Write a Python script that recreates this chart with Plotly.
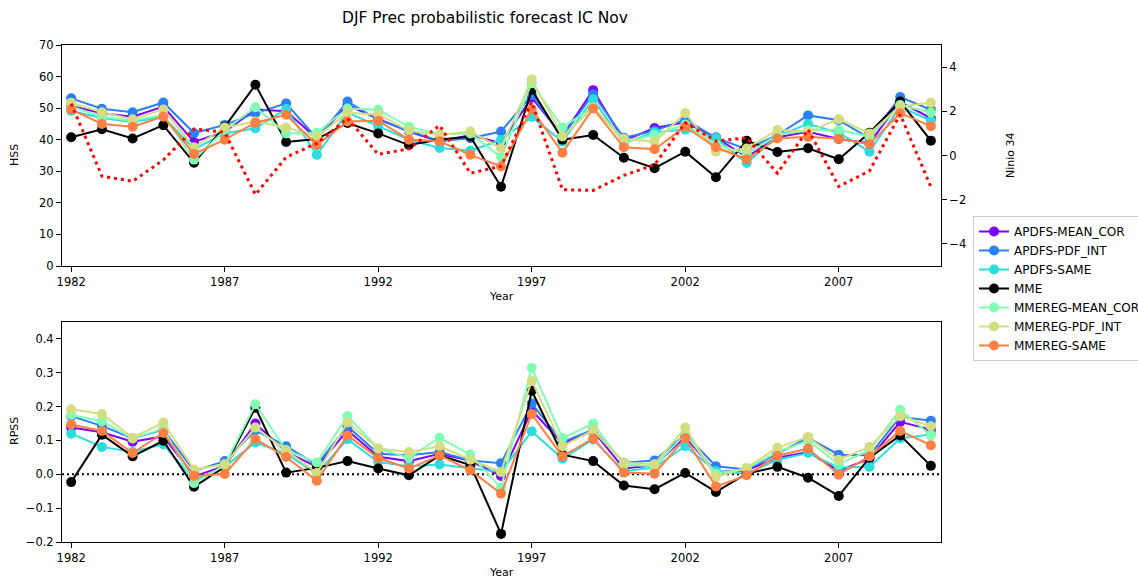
import plotly.graph_objects as go

# Forecast verification scores, DJF precipitation, initial condition November
years = list(range(1982, 2011))

model_names = ["APDFS-MEAN_COR", "APDFS-PDF_INT", "APDFS-SAME", "MME",
               "MMEREG-MEAN_COR", "MMEREG-PDF_INT", "MMEREG-SAME"]
model_colors = ["#8000ff", "#2b80f6", "#2bdddd", "#000000",
                "#80ffb4", "#d4dd80", "#ff8042"]

# Heidke skill score per year
hss_apdfs_mean_cor = [50.7, 48.4, 47.3, 50.5, 39.3, 42.6, 49.6, 49.0, 40.4, 51.0,
                      46.6, 42.6, 39.4, 41.5, 38.9, 53.3, 41.2, 55.7, 39.7, 43.7,
                      45.5, 40.7, 34.5, 40.8, 42.5, 40.2, 38.9, 52.0, 46.8]
hss_apdfs_pdf_int = [53.1, 49.8, 48.7, 51.8, 42.1, 44.7, 48.4, 51.5, 40.4, 52.1,
                     46.3, 42.8, 39.6, 40.5, 42.6, 54.2, 41.0, 54.4, 40.6, 42.8,
                     46.4, 40.6, 37.0, 41.5, 47.7, 46.2, 40.5, 53.5, 49.5]
hss_apdfs_same = [49.1, 46.9, 45.6, 47.3, 37.0, 42.0, 43.6, 49.7, 35.2, 48.6,
                  44.3, 40.0, 37.4, 36.5, 39.9, 47.2, 39.4, 52.8, 38.9, 42.4,
                  43.2, 40.5, 32.6, 41.2, 45.0, 42.2, 36.2, 50.5, 46.0]
hss_mme = [40.8, 43.3, 40.4, 44.6, 32.7, 44.1, 57.4, 39.3, 40.2, 45.3,
           42.0, 38.3, 40.1, 41.0, 25.1, 55.8, 40.0, 41.5, 34.3, 31.0,
           36.2, 28.1, 39.7, 36.1, 37.3, 33.8, 42.2, 52.1, 39.7]
hss_mmereg_mean_cor = [50.5, 47.3, 46.0, 47.8, 33.7, 43.1, 50.3, 42.0, 42.2, 49.9,
                       49.5, 44.1, 41.7, 42.0, 34.5, 57.9, 43.9, 50.3, 39.5, 41.5,
                       44.8, 38.5, 35.5, 41.5, 43.0, 43.1, 41.0, 51.0, 48.6]
hss_mmereg_pdf_int = [51.7, 48.7, 46.5, 49.6, 37.6, 43.9, 45.8, 43.9, 41.0, 48.5,
                      48.0, 42.9, 41.5, 42.6, 37.3, 59.1, 41.0, 50.0, 40.3, 39.4,
                      48.4, 36.2, 37.2, 43.1, 42.5, 46.5, 42.0, 50.5, 51.7]
hss_mmereg_same = [49.6, 45.0, 44.1, 47.3, 35.5, 40.0, 45.4, 47.9, 38.3, 45.8,
                   46.0, 40.0, 39.5, 35.2, 31.5, 49.6, 35.9, 49.9, 37.6, 37.0,
                   44.1, 37.6, 33.8, 40.4, 40.9, 40.3, 38.6, 48.4, 44.3]

# Ranked probability skill score per year
rpss_apdfs_mean_cor = [0.138, 0.124, 0.096, 0.112, -0.006, 0.025, 0.150, 0.066, 0.022, 0.130,
                       0.052, 0.039, 0.061, 0.040, -0.005, 0.189, 0.091, 0.128, 0.017, 0.027,
                       0.110, 0.007, 0.012, 0.049, 0.066, 0.010, 0.046, 0.155, 0.132]
rpss_apdfs_pdf_int = [0.172, 0.143, 0.106, 0.132, 0.010, 0.039, 0.130, 0.083, 0.028, 0.142,
                      0.061, 0.056, 0.066, 0.041, 0.033, 0.209, 0.095, 0.132, 0.034, 0.041,
                      0.118, 0.024, 0.014, 0.062, 0.108, 0.058, 0.056, 0.170, 0.158]
rpss_apdfs_same = [0.120, 0.081, 0.066, 0.089, -0.018, 0.022, 0.094, 0.061, 0.002, 0.104,
                   0.036, 0.024, 0.029, 0.017, 0.007, 0.127, 0.046, 0.103, 0.009, 0.020,
                   0.083, 0.010, 0.002, 0.043, 0.063, 0.020, 0.022, 0.106, 0.118]
rpss_mme = [-0.023, 0.117, 0.053, 0.099, -0.037, 0.022, 0.197, 0.005, 0.019, 0.039,
            0.017, -0.003, 0.056, 0.027, -0.176, 0.247, 0.058, 0.039, -0.033, -0.044,
            0.004, -0.052, 0.002, 0.022, -0.010, -0.064, 0.049, 0.115, 0.025]
rpss_mmereg_mean_cor = [0.175, 0.157, 0.106, 0.135, -0.026, 0.027, 0.207, 0.071, 0.035, 0.172,
                        0.076, 0.049, 0.108, 0.058, -0.040, 0.315, 0.107, 0.150, 0.028, 0.024,
                        0.120, 0.002, 0.017, 0.066, 0.099, 0.030, 0.071, 0.191, 0.115]
rpss_mmereg_pdf_int = [0.192, 0.178, 0.108, 0.153, 0.014, 0.030, 0.138, 0.071, 0.004, 0.153,
                       0.076, 0.066, 0.083, 0.043, 0.007, 0.276, 0.083, 0.130, 0.034, 0.030,
                       0.138, -0.008, 0.019, 0.079, 0.110, 0.043, 0.081, 0.172, 0.142]
rpss_mmereg_same = [0.147, 0.128, 0.063, 0.122, -0.005, 0.001, 0.104, 0.051, -0.019, 0.115,
                    0.048, 0.017, 0.056, 0.012, -0.057, 0.178, 0.053, 0.106, 0.005, 0.002,
                    0.107, -0.036, -0.003, 0.055, 0.076, -0.001, 0.053, 0.128, 0.086]

# Nino 3.4 index (DJF)
nino34 = [2.35, -0.93, -1.17, -0.20, 1.20, 1.05, -1.77, -0.08, 0.55, 1.68,
          0.05, 0.30, 1.36, -0.80, -0.48, 2.42, -1.55, -1.58, -0.90, -0.42,
          1.48, 0.65, 0.80, -0.80, 1.18, -1.40, -0.70, 1.86, -1.42]

year_ticks = [1982, 1987, 1992, 1997, 2002, 2007]

hss_series = [hss_apdfs_mean_cor, hss_apdfs_pdf_int, hss_apdfs_same, hss_mme,
              hss_mmereg_mean_cor, hss_mmereg_pdf_int, hss_mmereg_same]
rpss_series = [rpss_apdfs_mean_cor, rpss_apdfs_pdf_int, rpss_apdfs_same, rpss_mme,
               rpss_mmereg_mean_cor, rpss_mmereg_pdf_int, rpss_mmereg_same]

W, H = 1138, 578
FONT = "DejaVu Sans"


def px_x(p):
    return p / W


def px_y(p):
    return 1 - p / H


def label(text, x, y, size=11, angle=0):
    return dict(text=text, x=px_x(x), y=px_y(y), xref="paper", yref="paper",
                xanchor="center", yanchor="middle", showarrow=False,
                textangle=angle, font=dict(family=FONT, size=size, color="black"))


fig = go.Figure()

for name, color, hss in zip(model_names, model_colors, hss_series):
    fig.add_trace(go.Scatter(
        x=years, y=hss, name=name, mode="lines+markers",
        line=dict(color=color, width=2), marker=dict(color=color, size=10),
        xaxis="x", yaxis="y", showlegend=True))

for name, color, rpss in zip(model_names, model_colors, rpss_series):
    fig.add_trace(go.Scatter(
        x=years, y=rpss, name=name, mode="lines+markers",
        line=dict(color=color, width=2), marker=dict(color=color, size=10),
        xaxis="x2", yaxis="y3", showlegend=False))

fig.add_trace(go.Scatter(
    x=years, y=nino34, name="Ninio 34", mode="lines",
    line=dict(color="red", width=3, dash="3px,4px"),
    xaxis="x", yaxis="y2", showlegend=False))

x_dom = [px_x(62), px_x(941)]
axis_common = dict(showline=True, linecolor="black", linewidth=1, showgrid=False,
                   zeroline=False, ticks="outside", ticklen=5, tickwidth=1,
                   automargin=False, tickcolor="black",
                   tickfont=dict(family=FONT, size=11.5, color="black"))

fig.update_layout(
    template="none",
    width=W, height=H,
    margin=dict(l=0, r=0, t=0, b=0, pad=0, autoexpand=False),
    paper_bgcolor="white", plot_bgcolor="white",
    font=dict(family=FONT, size=12, color="black"),
    xaxis=dict(domain=x_dom, anchor="y", range=[1981.7, 2010.33],
               tickvals=year_ticks, mirror=True, **axis_common),
    yaxis=dict(domain=[px_y(266), px_y(45)], anchor="x", range=[0, 70],
               tickvals=list(range(0, 80, 10)), mirror=True, **axis_common),
    yaxis2=dict(overlaying="y", side="right", anchor="x", range=[-5, 5],
                tickvals=[-4, -2, 0, 2, 4], **axis_common),
    xaxis2=dict(domain=x_dom, anchor="y3", range=[1981.7, 2010.33],
                tickvals=year_ticks, mirror=True, **axis_common),
    yaxis3=dict(domain=[px_y(542), px_y(322)], anchor="x2", range=[-0.2, 0.45],
                tickvals=[-0.2, -0.1, 0.0, 0.1, 0.2, 0.3, 0.4], tickformat=".1f",
                mirror=True, **axis_common),
    showlegend=True,
    legend=dict(x=px_x(973), y=px_y(216), xanchor="left", yanchor="top",
                bgcolor="white", bordercolor="#cccccc", borderwidth=1,
                font=dict(family=FONT, size=12, color="black"),
                tracegroupgap=0, itemwidth=30),
    shapes=[dict(type="line", xref="x2 domain", yref="y3", x0=0, x1=1, y0=0, y1=0,
                 line=dict(color="black", width=2, dash="2px,3px"), layer="below")],
    annotations=[
        label("DJF Prec probabilistic forecast IC Nov", 485, 18, size=15.5),
        label("HSS", 14, 155, angle=-90),
        label("RPSS", 14, 431, angle=-90),
        label("Ninio 34", 1010, 155, angle=-90),
        label("Year", 501, 296),
        label("Year", 501, 572),
    ],
)

fig.write_html("out.html")
